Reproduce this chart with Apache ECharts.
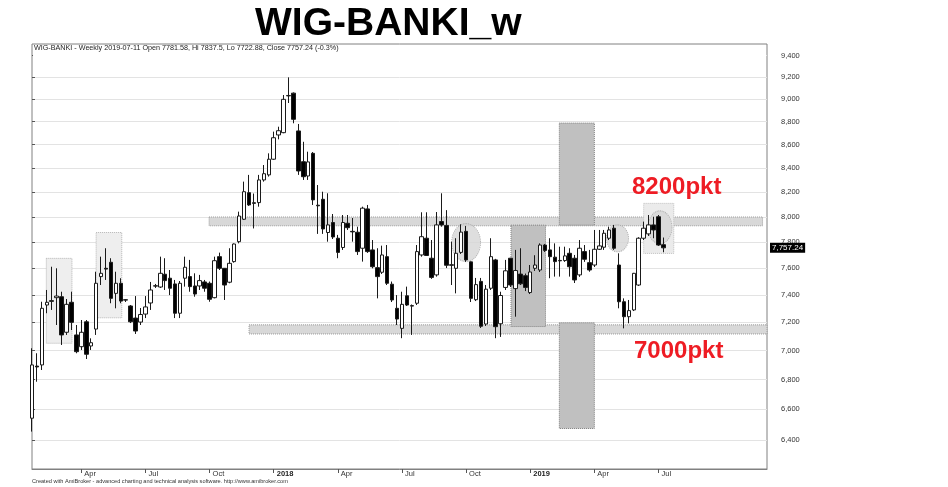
<!DOCTYPE html>
<html><head><meta charset="utf-8">
<script src="https://cdn.jsdelivr.net/npm/echarts@6/dist/echarts.min.js"></script>
<style>html,body{margin:0;padding:0;background:#fff}#c{width:948px;height:487px}</style>
</head><body><div id="c"></div>
<script>
// ---- data (weekly WIG-BANKI) ----
const firstWeek = '2017-01-27';
const totalSlots = 150; // weekly slots incl. empty future space
const opens = [6542,6892,6900,7326,7358,7380,7387,7129,7346,7110,7027,7204,7032,7152,7537,7600,7646,7412,7487,7365,
7319,7231,7202,7260,7341,7468,7459,7555,7525,7482,7266,7525,7537,7467,7467,7497,7487,7380,7689,7600,
7495,7651,7805,7982,8197,8115,8116,8302,8344,8476,8684,8704,9030,9055,8719,8455,8335,8526,8095,8143,
7877,7956,7832,7760,7950,7886,7879,7754,8065,7741,7605,7570,7689,7480,7302,7157,7394,7318,7339,7702,
7832,7677,7550,7964,7933,7627,7600,7722,7886,7649,7365,7501,7188,7450,7664,7190,7456,7677,7447,7556,
7544,7418,7600,7587,7779,7741,7685,7660,7659,7715,7677,7550,7728,7643,7625,7746,7762,7832,7911,7625,
7350,7241,7290,7474,7832,7866,7937,8002,7781.58];
const closes = [6900,6886,7302,7346,7353,7392,7110,7331,7200,6992,7129,6974,7055,7487,7562,7594,7375,7487,7355,7362,
7204,7138,7257,7312,7437,7466,7562,7507,7450,7266,7487,7608,7462,7407,7507,7450,7368,7658,7600,7474,
7638,7787,8008,8205,8097,8110,8302,8354,8476,8660,8721,8999,9034,8821,8377,8329,8453,8138,8090,7905,
7937,7842,7722,7956,7915,7882,7728,8071,7728,7612,7537,7702,7487,7363,7224,7331,7326,7322,7728,7844,
7698,7531,7937,7937,7623,7623,7715,7880,7664,7375,7477,7172,7443,7689,7169,7396,7581,7474,7583,7483,
7456,7572,7625,7779,7737,7689,7651,7657,7695,7612,7512,7754,7669,7587,7746,7772,7871,7897,7754,7350,
7241,7285,7562,7832,7911,7937,7897,7779,7757.24];
const lows = [6455,6785,6865,7266,7290,7181,7039,7110,7145,6981,7004,6941,7004,7110,7474,7512,7339,7302,7339,7348,
7195,7117,7181,7231,7290,7452,7452,7437,7399,7231,7231,7462,7424,7387,7437,7424,7350,7375,7587,7363,
7487,7643,7792,7976,8089,7909,8083,8288,8330,8470,8646,8699,8966,8786,8344,8302,8302,8097,7866,7866,
7805,7826,7677,7741,7897,7805,7702,7651,7718,7600,7375,7557,7474,7348,7181,7087,7319,7110,7326,7689,
7694,7520,7537,7923,7602,7474,7412,7710,7649,7348,7355,7160,7174,7437,7087,7096,7437,7459,7241,7474,
7429,7407,7580,7572,7725,7525,7537,7537,7649,7537,7489,7535,7649,7574,7610,7741,7741,7818,7741,7302,
7157,7193,7282,7467,7818,7850,7832,7772,7722.88];
const highs = [7016,6981,7350,7437,7612,7600,7424,7370,7424,7181,7217,7217,7086,7574,7689,7754,7677,7574,7525,7370,
7326,7392,7304,7392,7497,7482,7689,7677,7587,7512,7504,7689,7664,7562,7550,7512,7500,7689,7720,7602,
7754,7791,8043,8288,8344,8190,8344,8427,8526,8713,8756,9038,9199,9061,8780,8625,8540,8537,8260,8205,
8192,8024,7858,8016,8016,7992,7923,8083,8097,7818,7754,7774,7779,7500,7399,7424,7462,7330,7779,8038,
8038,7818,8040,8192,8055,7805,7832,7942,7929,7652,7527,7527,7474,7832,7672,7424,7664,7680,7741,7754,
7560,7625,7700,7792,7787,7832,7792,7766,7766,7754,7702,7818,7779,7741,7897,7897,7897,7923,7937,7715,
7375,7363,7565,7840,7963,8016,8002,8016,7837.5];
const lastDate = '2019-07-11';
const yTickValues = [6400,6600,6800,7000,7200,7400,7600,7800,8000,8200,8400,8600,8800,9000,9200,9400];
const quarterNames = {3:'Apr', 6:'Jul', 9:'Oct'};
const headerText = 'WIG-BANKI - Weekly 2019-07-11 Open 7781.58, Hi 7837.5, Lo 7722.88, Close 7757.24 (-0.3%)';
// drawn annotations (x in week-slot index, y in index points)
const annoBoxes = [
  {x:[35.9,148.1], y:[7930,8000], fill:'#d8d8d8', line:'#9a9a9a'},
  {x:[44.0,149.0], y:[7117,7182], fill:'#d8d8d8', line:'#9a9a9a'},
  {x:[2.9,8.1],   y:[7051,7676], fill:'#eeeeee', line:'#b5b5b5'},
  {x:[13.0,18.2], y:[7233,7877], fill:'#eeeeee', line:'#b5b5b5'},
  {x:[97.1,104.1],y:[7170,7935], fill:'#c0c0c0', line:'#808080'},
  {x:[106.9,114.0],y:[7935,8788],fill:'#c0c0c0', line:'#808080'},
  {x:[106.9,114.0],y:[6475,7197],fill:'#c0c0c0', line:'#808080'},
  {x:[124.0,130.1],y:[7714,8110],fill:'#ebebeb', line:'#c0c0c0'}
];
const annoCircles = [
  {x:88.0, y:7798, w:29, h:38},
  {x:118.7, y:7831, w:22, h:27},
  {x:127.3, y:7918, w:24, h:33}
];

// ---- build ----
const DAY = 864e5;
const t0 = Date.parse(firstWeek + 'T00:00:00Z');
const categories = [];
for (let i = 0; i < totalSlots; i++) categories.push(new Date(t0 + i * 7 * DAY).toISOString().slice(0, 10));
categories[opens.length - 1] = lastDate;
const labelAt = {};
for (let i = 1; i < opens.length; i++) {
  const m = +categories[i].slice(5, 7) - 1, pm = +categories[i - 1].slice(5, 7) - 1;
  if (m !== pm && m % 3 === 0) labelAt[i] = m === 0 ? '{y|' + categories[i].slice(0, 4) + '}' : quarterNames[m];
}
const candles = opens.map((o, i) => [o, closes[i], lows[i], highs[i]]);
const fmt = v => String(Math.round(v)).replace(/\B(?=(\d{3})+(?!\d))/g, ',');
const lastClose = closes[closes.length - 1];
const lastCloseText = fmt(Math.floor(lastClose)) + '.' + lastClose.toFixed(2).split('.')[1];

const chart = echarts.init(document.getElementById('c'), null, {renderer: 'canvas'});
const FONT = '"Liberation Sans", Arial, sans-serif';
chart.setOption({
  animation: false,
  backgroundColor: '#fff',
  textStyle: {fontFamily: FONT},
  grid: {left: 32, right: 181, top: 44, bottom: 18, show: true, borderColor: '#808080', borderWidth: 1},
  xAxis: [{
    type: 'category', data: categories, boundaryGap: false,
    axisLine: {show: true, lineStyle: {color: '#808080'}},
    axisTick: {show: true, interval: i => labelAt[i] !== undefined, length: 4, lineStyle: {color: '#555'}},
    axisLabel: {interval: i => labelAt[i] !== undefined, formatter: (v, i) => labelAt[i] || '',
      align: 'left', padding: [0, 0, 0, 3], margin: 1, fontSize: 7.5, color: '#333', fontFamily: FONT,
      rich: {y: {fontWeight: 'bold', fontSize: 7.5, color: '#222'}}},
    splitLine: {show: false}
  }, {
    type: 'value', min: 0, max: totalSlots - 1, show: false
  }],
  yAxis: {
    type: 'log', logBase: 10, min: 6218, max: 9511, position: 'right',
    axisLine: {show: false},
    axisTick: {show: true, customValues: yTickValues, length: 3, lineStyle: {color: '#555'}},
    axisLabel: {customValues: yTickValues, formatter: fmt, fontSize: 7.5, color: '#333', margin: 14, fontFamily: FONT},
    splitLine: {show: true, lineStyle: {color: '#e3e3e3'}}
  },
  series: [{
    type: 'scatter', xAxisIndex: 1, yAxisIndex: 0, z: 1, silent: true,
    data: annoCircles.map(c => ({value: [c.x, c.y], symbolSize: [c.w, c.h]})),
    symbol: 'circle',
    itemStyle: {color: '#d6d6d6', borderColor: '#a0a0a0', borderType: 'dotted', borderWidth: 1},
    markArea: {
      silent: true,
      data: annoBoxes.map(b => [
        {coord: [b.x[0], b.y[1]], itemStyle: {color: b.fill, borderColor: b.line, borderType: 'dotted', borderWidth: 1}},
        {coord: [b.x[1], b.y[0]]}
      ])
    }
  }, {
    type: 'candlestick', xAxisIndex: 0, yAxisIndex: 0, z: 5, clip: false,
    data: candles, barWidth: 4,
    itemStyle: {color: '#ffffff', color0: '#000000', borderColor: '#1a1a1a', borderColor0: '#1a1a1a', borderWidth: 1},
    markLine: {
      silent: true, symbol: ['none', 'none'],
      lineStyle: {color: 'rgba(0,0,0,0)', width: 0, type: 'solid'},
      data: [{yAxis: lastClose}],
      label: {show: true, position: 'end', formatter: lastCloseText,
        backgroundColor: '#000', color: '#fff', fontSize: 8, padding: [1, 2], distance: 3, fontFamily: FONT}
    }
  }],
  graphic: [
    {type: 'rect', left: 33, top: 53, z: 3, shape: {width: 733, height: 5}, style: {fill: '#fff'}},
    {type: 'text', left: 255, top: 5, style: {text: 'WIG-BANKI_w', font: 'bold 39px ' + FONT, fill: '#000'}},
    {type: 'text', left: 34, top: 45, z: 4, style: {text: headerText, font: '7.2px ' + FONT, fill: '#222'}},
    {type: 'text', left: 632, top: 175, z: 10, style: {text: '8200pkt', font: 'bold 24px ' + FONT, fill: '#ee1c24'}},
    {type: 'text', left: 634, top: 339, z: 10, style: {text: '7000pkt', font: 'bold 24px ' + FONT, fill: '#ee1c24'}},
    {type: 'text', left: 32, top: 478, style: {text: 'Created with AmiBroker - advanced charting and technical analysis software. http://www.amibroker.com', font: '5.6px ' + FONT, fill: '#333'}}
  ]
});
</script></body></html>
